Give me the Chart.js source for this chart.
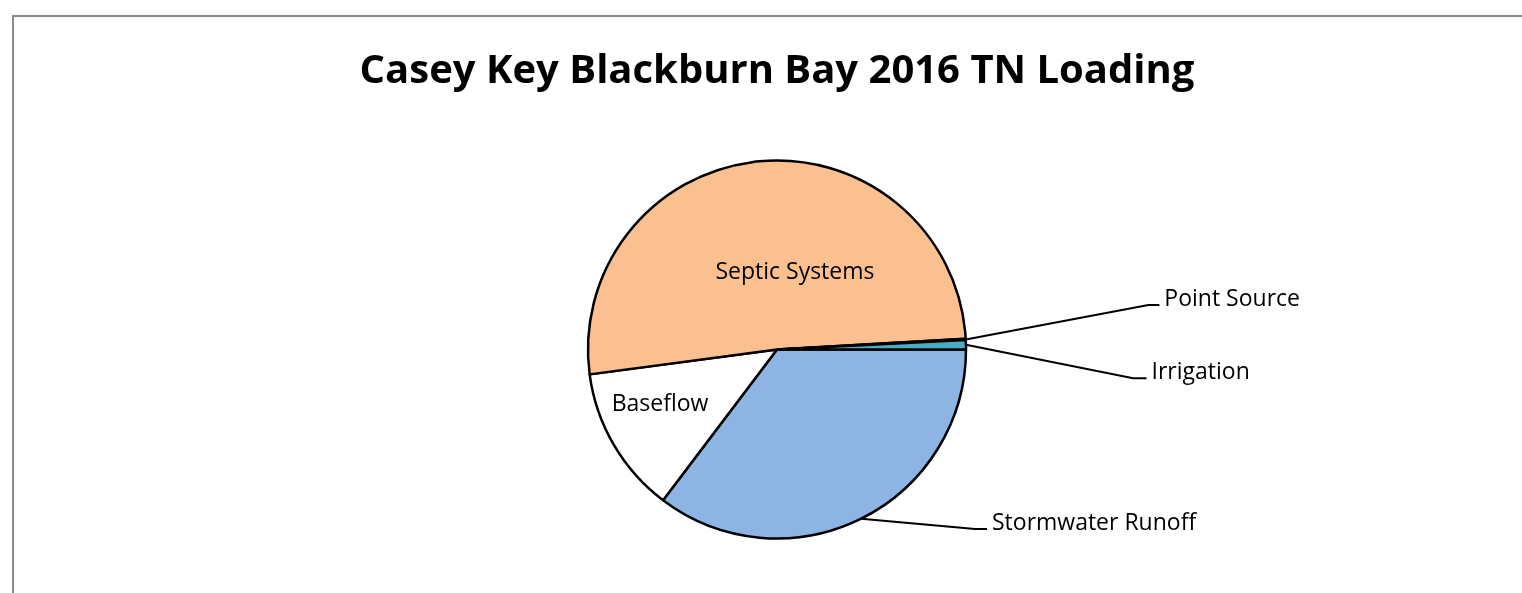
<!DOCTYPE html>
<html>
<head>
<meta charset="utf-8">
<script src="https://cdn.jsdelivr.net/npm/chart.js@4.4.1/dist/chart.umd.min.js"></script>
<style>
  html, body { margin: 0; padding: 0; width: 1522px; height: 593px; overflow: hidden; background: #fff; }
  #frame { position: absolute; left: 12px; top: 15px; width: 1530px; height: 620px; border: 2px solid #898989; background: #fff; }
  #wrap { position: absolute; left: 0; top: 0; width: 1526px; height: 576px; }
</style>
</head>
<body>
<div id="frame"><div id="wrap"><canvas id="c"></canvas></div></div>
<script>
// ---- data ----
const chartTitle = 'Casey Key Blackburn Bay 2016 TN Loading';
const categories = ['Stormwater Runoff', 'Baseflow', 'Septic Systems', 'Point Source', 'Irrigation'];
const tnLoadPercent = [35.3, 12.6, 51.2, 0.1, 0.8];

// ---- styles ----
const sliceColors = ['#8EB4E3', '#FFFFFF', '#FAC090', '#4F81BD', '#4BACC6'];
const labelFont = '23px "Open Sans"';
// label placement in units of the pie radius, relative to pie centre
const labelLayout = [
  { kind: 'outside', elbow: [1.048, 0.950], end: 1.111 },
  { kind: 'inside', at: [-0.619, 0.325] },
  { kind: 'inside', at: [0.095, -0.373] },
  { kind: 'outside', elbow: [1.965, -0.235], end: 2.023 },
  { kind: 'outside', elbow: [1.884, 0.152], end: 1.955 }
];

const sliceLabels = {
  id: 'sliceLabels',
  afterDatasetsDraw(chart) {
    const ctx = chart.ctx;
    const meta = chart.getDatasetMeta(0);
    ctx.save();
    ctx.font = labelFont;
    ctx.fillStyle = '#000';
    ctx.strokeStyle = '#000';
    ctx.lineWidth = 2;
    meta.data.forEach((arc, i) => {
      const p = arc.getProps(['x', 'y', 'startAngle', 'endAngle', 'outerRadius'], true);
      const r = p.outerRadius;
      const spec = labelLayout[i];
      const text = chart.data.labels[i];
      if (spec.kind === 'inside') {
        ctx.textAlign = 'center';
        ctx.textBaseline = 'alphabetic';
        ctx.fillText(text, p.x + spec.at[0] * r, p.y + spec.at[1] * r);
      } else {
        const mid = (p.startAngle + p.endAngle) / 2;
        const sx = p.x + Math.cos(mid) * r;
        const sy = p.y + Math.sin(mid) * r;
        const ex = p.x + spec.elbow[0] * r;
        const ey = p.y + spec.elbow[1] * r;
        const tx = p.x + spec.end * r;
        ctx.beginPath();
        ctx.moveTo(sx, sy);
        ctx.lineTo(ex, ey);
        ctx.lineTo(tx, ey);
        ctx.stroke();
        ctx.textAlign = 'left';
        ctx.textBaseline = 'alphabetic';
        ctx.fillText(text, tx + 5, ey + 1);
      }
    });
    ctx.restore();
  }
};

new Chart(document.getElementById('c'), {
  type: 'pie',
  data: {
    labels: categories,
    datasets: [{
      data: tnLoadPercent,
      backgroundColor: sliceColors,
      borderColor: '#000',
      borderWidth: 2.5
    }]
  },
  options: {
    responsive: true,
    maintainAspectRatio: false,
    animation: false,
    rotation: 90,
    radius: 189,
    layout: { padding: { top: 0, bottom: 43.5, left: 0, right: 0 } },
    plugins: {
      legend: { display: false },
      tooltip: { enabled: false },
      title: {
        display: true,
        text: chartTitle,
        color: '#000',
        font: { family: 'Open Sans', size: 40, weight: 'bold', lineHeight: 1.2 },
        padding: { top: 31, bottom: 53.5 }
      }
    }
  },
  plugins: [sliceLabels]
});
</script>
</body>
</html>
